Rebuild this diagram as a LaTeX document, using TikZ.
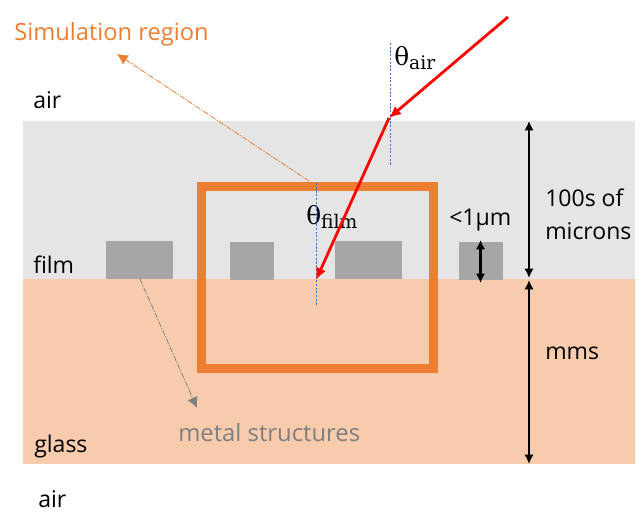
\documentclass[tikz,border=0pt]{standalone}
\usepackage{fontspec}
\setmainfont{Open Sans}
\newfontfamily\mathserif{DejaVu Serif}
\usetikzlibrary{arrows.meta}
\definecolor{filmgray}{HTML}{E5E5E5}
\definecolor{glasspeach}{HTML}{F8CBAD}
\definecolor{simorange}{HTML}{ED7D31}
\definecolor{boxorange}{HTML}{EE7E32}
\definecolor{metalgray}{HTML}{A6A6A6}
\definecolor{labelgray}{HTML}{7F7F7F}
\definecolor{normalblue}{HTML}{4472C4}
\tikzset{
  lbl/.style={inner sep=0pt,anchor=base west,font=\fontsize{17.2bp}{20bp}\selectfont},
  metal/.style={fill=metalgray,draw=none},
  dim/.style={line width=1.8pt,{Latex[length=7pt,width=7pt]}-{Latex[length=7pt,width=7pt]}},
  normalline/.style={normalblue,line width=0.6pt,dash pattern=on 1.6pt off 1.2pt},
  ray/.style={red,line width=2.1pt},
  leader/.style={line width=0.6pt,dash pattern=on 4pt off 1pt on 1pt off 1pt,-{Latex[length=8pt,width=8pt]}},
  theta/.style={inner sep=0pt,anchor=base west,font=\mathserif\fontsize{16.5bp}{20bp}\selectfont}
}
\newcommand{\thetasub}[1]{\fontsize{18.5bp}{20bp}\selectfont θ\raisebox{-0.3ex}{\fontsize{14bp}{16bp}\selectfont #1}}
\begin{document}
\begin{tikzpicture}[x=0.75pt,y=-0.75pt]
\useasboundingbox (0,0) rectangle (643,530);
\fill[filmgray] (23,121) rectangle (635,279);
\fill[glasspeach] (23,279) rectangle (635,464);
\node[metal,minimum width=50.25pt,minimum height=28.5pt,inner sep=0pt] (m1) at (139.5,260) {};
\node[metal,minimum width=33pt,minimum height=28.5pt,inner sep=0pt] (m2) at (252,261) {};
\node[metal,minimum width=50.25pt,minimum height=28.5pt,inner sep=0pt] (m3) at (368.5,260) {};
\node[metal,minimum width=33pt,minimum height=28.5pt,inner sep=0pt] (m4) at (481,261) {};
\node[draw=boxorange,line width=6.5pt,minimum width=174pt,minimum height=136.5pt,inner sep=0pt] (sim) at (317.5,277.5) {};
% labels
\node[lbl,text=simorange,font=\fontsize{17.7bp}{22bp}\selectfont] (simlabel) at (14,41) {Simulation region};
\node[lbl] (airtop) at (33,109) {air};
\node[lbl] (film) at (33,274) {film};
\node[lbl] (glass) at (34,453) {glass};
\node[lbl] (airbot) at (38,508) {air};
\node[lbl,text=labelgray,font=\fontsize{17.8bp}{22bp}\selectfont] (metallabel) at (178,442) {metal structures};
\node[lbl] (lt) at (449,226) {<1µm};
\node[lbl] (h1) at (545,207) {100s of};
\node[lbl] (h2) at (545,240) {microns};
\node[lbl] (mms) at (545,360) {mms};
\node[theta] (tair) at (394,66) {\thetasub{air}};
\node[theta] (tfilm) at (306,225) {\thetasub{film}};
% normals
\coordinate (n1a) at (390.5,43); \coordinate (n1b) at (390.5,165);
\coordinate (n2a) at (316.5,183); \coordinate (n2b) at (316.5,305);
\draw[normalline] (n1a) -- (n1b);
\draw[normalline] (n2a) -- (n2b);
% rays
\coordinate (r0) at (508,17); \coordinate (r1) at (389,118); \coordinate (r2) at (316,280);
\draw[ray,-{Latex[length=9pt,width=8pt]}] (r0) -- (r1);
\draw[ray,-{Latex[length=9pt,width=8pt]}] (r1) -- (r2);
% leaders
\coordinate (o0) at (309,181); \coordinate (o1) at (117,54);
\draw[leader,simorange] (o0) -- (o1);
\coordinate (g0) at (140,279); \coordinate (g1) at (197,408);
\draw[leader,labelgray] (g0) -- (g1);
% dimensions
\coordinate (d1) at (529,121); \coordinate (d2) at (529,278);
\coordinate (d3) at (529,280); \coordinate (d4) at (529,464);
\coordinate (d5) at (480.5,240); \coordinate (d6) at (480.5,283);
\draw[dim] (d1) -- (d2);
\draw[dim] (d3) -- (d4);
\draw[dim,line width=2.2pt] (d5) -- (d6);
\end{tikzpicture}
\end{document}
